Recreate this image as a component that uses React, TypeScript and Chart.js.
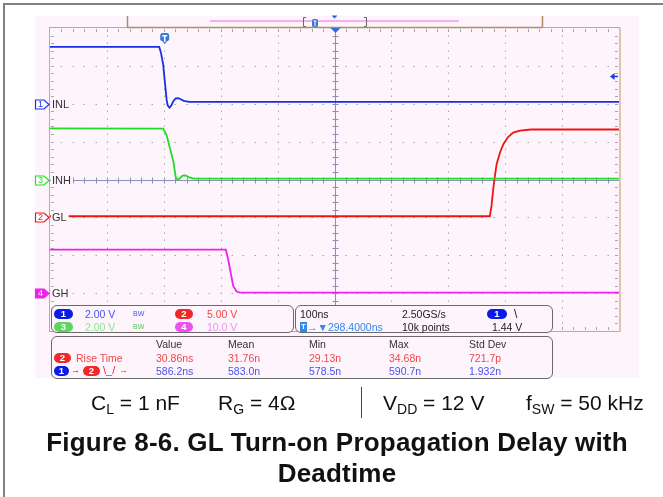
import React, { useEffect, useRef } from "react";
import { Chart, registerables } from "chart.js";
Chart.register(...registerables);

// ---- time base: 100 ns/div, 10 divisions, time in ns from left edge of screen
const TIME_MIN = 0;
const TIME_MAX = 1000;
const TIME_DIVS = 10;
const V_DIVS = 8;
const TRIGGER_T = 201.6; // centre (500 ns) minus 298.4 ns
const TRIGGER_LEVEL = 1.44; // V on channel 1

// ---- channel 1 : INL (2 V/div)
const CH1_T = [0, 192, 195, 199, 202, 205, 207, 210, 213, 217, 221, 225, 229, 235, 245, 1000];
const CH1_V = [3.0, 3.0, 2.7, 2.05, 1.1, 0.2, -0.1, -0.2, -0.1, 0.15, 0.28, 0.3, 0.25, 0.15, 0.1, 0.1];

// ---- channel 3 : INH (2 V/div)
const CH3_T = [0, 199, 205, 211, 217, 221, 224, 228, 233, 238, 244, 252, 1000];
const CH3_V = [2.7, 2.69, 2.33, 1.63, 0.92, 0.12, -0.02, 0.05, 0.2, 0.22, 0.12, 0.05, 0.05];

// ---- channel 2 : GL (5 V/div)
const CH2_T = [0, 773, 776, 779, 782, 785, 791, 797, 805, 814, 826, 845, 1000];
const CH2_V = [0.15, 0.15, 1.55, 3.76, 5.5, 7.05, 8.6, 9.7, 10.6, 11.2, 11.45, 11.6, 11.6];

// ---- channel 4 : GH (10 V/div)
const CH4_T = [0, 309, 313, 317.5, 322, 328, 334, 1000];
const CH4_V = [11.5, 11.46, 9.0, 5.44, 1.92, 0.41, 0.15, 0.15];

// channel settings: volts/div and ground marker position (divisions from centre)
const CH_IDS = ["ch1", "ch2", "ch3", "ch4"];
const CH_NUMS = ["1", "2", "3", "4"];
const CH_LABELS = ["INL", "GL", "INH", "GH"];
const CH_VDIV = [2, 5, 2, 10];
const CH_GROUND_DIV = [2, -1, 0, -3];
const CH_COLORS = ["#1A2EE6", "#F01414", "#22DE22", "#EE22EE"];

const PANEL_BG = "#FDF4FC";

function pts(ts: number[], vs: number[]) {
  return ts.map((t, i) => ({ x: t, y: vs[i] }));
}

function yScaleFor(i: number) {
  const v = CH_VDIV[i];
  const g = CH_GROUND_DIV[i];
  return {
    type: "linear" as const,
    display: false,
    min: -(V_DIVS / 2 + g) * v,
    max: (V_DIVS / 2 - g) * v,
  };
}

const scopePlugin = {
  id: "scope",
  beforeDraw(chart: any) {
    const ctx = chart.ctx as CanvasRenderingContext2D;
    const { left, right, top, bottom } = chart.chartArea;
    ctx.save();
    ctx.fillStyle = "#ffffff";
    ctx.fillRect(0, 0, chart.width, chart.height);
    // outer figure frame
    ctx.fillStyle = "#808080";
    ctx.fillRect(3, 3, chart.width - 3, 2);
    ctx.fillRect(3, 3, 2, chart.height - 3);
    // scope screen panel
    ctx.fillStyle = PANEL_BG;
    ctx.fillRect(35, 16, 604, 362);

    // top memory bar
    ctx.strokeStyle = "#B48A62";
    ctx.lineWidth = 1.5;
    ctx.beginPath();
    ctx.moveTo(127.5, 16);
    ctx.lineTo(127.5, top);
    ctx.lineTo(542.5, top);
    ctx.lineTo(542.5, 16);
    ctx.stroke();
    ctx.fillStyle = "#F6B0EE";
    ctx.fillRect(210, 20, 249, 2);
    // brackets
    ctx.strokeStyle = "#666";
    ctx.lineWidth = 1;
    ctx.beginPath();
    ctx.moveTo(306, 17.5); ctx.lineTo(303.5, 17.5); ctx.lineTo(303.5, 26.5); ctx.lineTo(306, 26.5);
    ctx.moveTo(364, 17.5); ctx.lineTo(366.5, 17.5); ctx.lineTo(366.5, 26.5); ctx.lineTo(364, 26.5);
    ctx.stroke();
    // small trigger marker on memory bar
    ctx.fillStyle = "#3A78D8";
    ctx.beginPath();
    (ctx as any).roundRect(312, 19, 6, 8, 1.5);
    ctx.fill();
    ctx.fillStyle = "#fff";
    ctx.fillRect(314.5, 21, 1, 5);
    ctx.fillRect(313.5, 20.5, 3, 1);
    // small triangle at screen centre on memory bar
    const cx = chart.scales.x.getPixelForValue((TIME_MIN + TIME_MAX) / 2);
    ctx.fillStyle = "#2060E0";
    ctx.beginPath();
    ctx.moveTo(cx - 3, 15.5); ctx.lineTo(cx + 3, 15.5); ctx.lineTo(cx, 18.5); ctx.closePath();
    ctx.fill();

    // plot background
    ctx.fillStyle = PANEL_BG;
    ctx.fillRect(left, top, right - left, bottom - top);
    ctx.restore();
  },
  beforeDatasetsDraw(chart: any) {
    const ctx = chart.ctx as CanvasRenderingContext2D;
    const { left, right, top, bottom } = chart.chartArea;
    const dx = (right - left) / TIME_DIVS;
    const dy = (bottom - top) / V_DIVS;
    ctx.save();
    // dotted graticule
    ctx.fillStyle = "#A8A8B0";
    for (let i = 1; i < TIME_DIVS; i++) {
      if (i === TIME_DIVS / 2) continue;
      const x = Math.round(left + i * dx);
      for (let j = 1; j < V_DIVS * 5; j++) {
        const y = Math.round(top + (j * dy) / 5);
        ctx.fillRect(x, y - 0.5, 1, 1.5);
      }
    }
    for (let j = 1; j < V_DIVS; j++) {
      if (j === V_DIVS / 2) continue;
      const y = Math.round(top + j * dy);
      for (let i = 1; i < TIME_DIVS * 5; i++) {
        const x = Math.round(left + (i * dx) / 5);
        ctx.fillRect(x - 0.5, y, 1.5, 1);
      }
    }
    // border ticks
    ctx.fillStyle = "#A8A8B0";
    for (let i = 1; i < TIME_DIVS * 5; i++) {
      const x = Math.round(left + (i * dx) / 5);
      ctx.fillRect(x, top + 1, 1, 3);
      ctx.fillRect(x, bottom - 4, 1, 3);
    }
    for (let j = 1; j < V_DIVS * 5; j++) {
      const y = Math.round(top + (j * dy) / 5);
      ctx.fillRect(left + 1, y, 3, 1);
      ctx.fillRect(right - 4, y, 3, 1);
    }
    // centre axes
    const cx = Math.round(left + 5 * dx) + 0.5;
    const cy = Math.round(top + 4 * dy) + 0.5;
    ctx.strokeStyle = "#8890B4";
    ctx.lineWidth = 1;
    ctx.beginPath();
    ctx.moveTo(cx, top); ctx.lineTo(cx, bottom);
    ctx.moveTo(left, cy); ctx.lineTo(right, cy);
    for (let i = 1; i < TIME_DIVS * 5; i++) {
      const x = Math.round(left + (i * dx) / 5) + 0.5;
      ctx.moveTo(x, cy - 3); ctx.lineTo(x, cy + 3);
    }
    for (let j = 1; j < V_DIVS * 5; j++) {
      const y = Math.round(top + (j * dy) / 5) + 0.5;
      ctx.moveTo(cx - 3, y); ctx.lineTo(cx + 3, y);
    }
    ctx.stroke();
    // border
    ctx.strokeStyle = "#C9A486";
    ctx.lineWidth = 1;
    ctx.strokeRect(left - 0.5, top - 0.5, right - left + 1, bottom - top + 1);
    ctx.fillStyle = "#E2C4AC";
    ctx.fillRect(right, top, 2, bottom - top + 1);
    ctx.strokeStyle = "#B48A62";
    ctx.lineWidth = 1.5;
    ctx.beginPath();
    ctx.moveTo(127.5, top - 0.5); ctx.lineTo(542.5, top - 0.5);
    ctx.stroke();
    // centre marker triangle at top
    ctx.fillStyle = "#2F6FE0";
    ctx.beginPath();
    ctx.moveTo(cx - 5, top); ctx.lineTo(cx + 5, top); ctx.lineTo(cx, top + 5); ctx.closePath();
    ctx.fill();
    ctx.restore();
  },
  afterDatasetsDraw(chart: any) {
    const ctx = chart.ctx as CanvasRenderingContext2D;
    const { left, right, top } = chart.chartArea;
    ctx.save();
    // channel ground markers & labels
    ctx.textBaseline = "middle";
    for (let i = 0; i < CH_IDS.length; i++) {
      const gy = Math.round(chart.scales[CH_IDS[i]].getPixelForValue(0)) + 0.5;
      ctx.font = '11px "Liberation Sans", Arial, sans-serif';
      const w = ctx.measureText(CH_LABELS[i]).width;
      ctx.fillStyle = PANEL_BG;
      ctx.fillRect(left + 1, gy - 6, w + 3, 12);
      ctx.fillStyle = "#333";
      ctx.textAlign = "left";
      ctx.fillText(CH_LABELS[i], left + 2, gy + 0.5);
      // marker
      ctx.beginPath();
      ctx.moveTo(35.5, gy - 4.5);
      ctx.lineTo(44, gy - 4.5);
      ctx.lineTo(left - 1, gy);
      ctx.lineTo(44, gy + 4.5);
      ctx.lineTo(35.5, gy + 4.5);
      ctx.closePath();
      const filled = i === 3;
      ctx.fillStyle = filled ? CH_COLORS[i] : "#ffffff";
      ctx.fill();
      ctx.strokeStyle = CH_COLORS[i];
      ctx.lineWidth = 1.2;
      ctx.stroke();
      ctx.fillStyle = filled ? "#ffffff" : CH_COLORS[i];
      ctx.font = '9px "Liberation Sans", Arial, sans-serif';
      ctx.textAlign = "center";
      ctx.fillText(CH_NUMS[i], 40.5, gy + 0.5);
    }
    // trigger position marker
    const tx = chart.scales.x.getPixelForValue(TRIGGER_T);
    ctx.fillStyle = "#3A78D8";
    ctx.beginPath();
    (ctx as any).roundRect(tx - 4.5, top + 5, 9, 8, 2.5);
    ctx.fill();
    ctx.beginPath();
    ctx.moveTo(tx - 4.5, top + 11); ctx.lineTo(tx + 4.5, top + 11); ctx.lineTo(tx, top + 16); ctx.closePath();
    ctx.fill();
    ctx.fillStyle = "#fff";
    ctx.fillRect(tx - 2.5, top + 7, 5, 1.5);
    ctx.fillRect(tx - 0.75, top + 7, 1.5, 7);
    // trigger level arrow (right)
    const ty = Math.round(chart.scales.ch1.getPixelForValue(TRIGGER_LEVEL)) + 0.5;
    ctx.fillStyle = "#1A3BE0";
    ctx.beginPath();
    ctx.moveTo(right - 9, ty); ctx.lineTo(right - 4.5, ty - 3.5); ctx.lineTo(right - 4.5, ty + 3.5); ctx.closePath();
    ctx.fill();
    ctx.fillRect(right - 5, ty - 0.75, 4, 1.5);
    ctx.restore();
  },
};

const SCOPE_FONT = '"Liberation Sans", Arial, "DejaVu Sans", sans-serif';

function Txt(props: { x: number; y: number; color?: string; size?: number; children: any; bold?: boolean }) {
  return (
    <div
      style={{
        position: "absolute",
        left: props.x,
        top: props.y,
        color: props.color || "#222",
        fontSize: props.size || 10.5,
        lineHeight: 1,
        whiteSpace: "nowrap",
        fontWeight: props.bold ? "bold" : "normal",
      }}
    >
      {props.children}
    </div>
  );
}

function Pill(props: { x: number; y: number; w: number; bg: string; n: string }) {
  return (
    <div
      style={{
        position: "absolute",
        left: props.x,
        top: props.y,
        width: props.w,
        height: 10,
        borderRadius: 5,
        background: props.bg,
        color: "#fff",
        fontSize: 9.5,
        fontWeight: "bold",
        lineHeight: "10px",
        textAlign: "center",
      }}
    >
      {props.n}
    </div>
  );
}

const boxStyle = (x: number, y: number, w: number, h: number): React.CSSProperties => ({
  position: "absolute",
  left: x,
  top: y,
  width: w,
  height: h,
  border: "1px solid #6A6A6A",
  borderRadius: 6,
  background: PANEL_BG,
  boxSizing: "border-box",
});

const sub = (s: string) => (
  <span style={{ fontSize: 14, position: "relative", top: 4 }}>{s}</span>
);

export default function App() {
  const ref = useRef<HTMLCanvasElement>(null);
  useEffect(() => {
    const series = [
      { id: "ch1", t: CH1_T, v: CH1_V, c: CH_COLORS[0], label: "INL" },
      { id: "ch3", t: CH3_T, v: CH3_V, c: CH_COLORS[2], label: "INH" },
      { id: "ch2", t: CH2_T, v: CH2_V, c: CH_COLORS[1], label: "GL" },
      { id: "ch4", t: CH4_T, v: CH4_V, c: CH_COLORS[3], label: "GH" },
    ];
    const chart = new Chart(ref.current as HTMLCanvasElement, {
      type: "line",
      data: {
        datasets: series.map((s) => ({
          label: s.label,
          data: pts(s.t, s.v),
          yAxisID: s.id,
          borderColor: s.c,
          backgroundColor: s.c,
          borderWidth: 1.8,
          pointRadius: 0,
          tension: 0,
          fill: false,
        })),
      },
      options: {
        responsive: false,
        maintainAspectRatio: false,
        animation: false,
        events: [],
        layout: { padding: { left: 50, top: 28, right: 44, bottom: 166 } },
        plugins: { legend: { display: false }, tooltip: { enabled: false } },
        scales: {
          x: { type: "linear", display: false, min: TIME_MIN, max: TIME_MAX },
          ch1: yScaleFor(0),
          ch2: yScaleFor(1),
          ch3: yScaleFor(2),
          ch4: yScaleFor(3),
        },
      } as any,
      plugins: [scopePlugin],
    });
    return () => chart.destroy();
  }, []);

  return (
    <div
      style={{
        position: "fixed",
        left: 0,
        top: 0,
        width: 663,
        height: 497,
        overflow: "hidden",
        background: "#fff",
        fontFamily: SCOPE_FONT,
      }}
    >
      <canvas ref={ref} width={663} height={497} style={{ position: "absolute", left: 0, top: 0, width: 663, height: 497 }} />

      {/* channel settings box */}
      <div style={boxStyle(51, 305, 243, 28)} />
      <Pill x={54} y={309} w={19} bg="#0A1AE8" n="1" />
      <Txt x={85} y={309} color="#4455EE">2.00 V</Txt>
      <Txt x={133} y={310} color="#4455EE" size={7}>BW</Txt>
      <Pill x={175} y={309} w={18} bg="#F02828" n="2" />
      <Txt x={207} y={309} color="#F04848">5.00 V</Txt>
      <Pill x={54} y={322} w={19} bg="#5CD65C" n="3" />
      <Txt x={85} y={322} color="#88E888">2.00 V</Txt>
      <Txt x={133} y={323} color="#55C855" size={7}>BW</Txt>
      <Pill x={175} y={322} w={18} bg="#F050F0" n="4" />
      <Txt x={207} y={322} color="#F090F0">10.0 V</Txt>

      {/* timebase box */}
      <div style={boxStyle(295, 305, 258, 28)} />
      <Txt x={300} y={309}>100ns</Txt>
      <Txt x={402} y={309}>2.50GS/s</Txt>
      <Pill x={487} y={309} w={20} bg="#0A1AE8" n="1" />
      <Txt x={514} y={308} size={12}>\</Txt>
      <div style={{ position: "absolute", left: 300, top: 322, width: 7, height: 10, background: "#3388EE", color: "#fff", fontSize: 8, fontWeight: "bold", lineHeight: "10px", textAlign: "center" }}>T</div>
      <Txt x={307} y={322} color="#3388EE">→▼298.4000ns</Txt>
      <Txt x={402} y={322}>10k points</Txt>
      <Txt x={492} y={322}>1.44 V</Txt>

      {/* measurement box */}
      <div style={boxStyle(51, 336, 502, 43)} />
      <Txt x={156} y={339} color="#333">Value</Txt>
      <Txt x={228} y={339} color="#333">Mean</Txt>
      <Txt x={309} y={339} color="#333">Min</Txt>
      <Txt x={389} y={339} color="#333">Max</Txt>
      <Txt x={469} y={339} color="#333">Std Dev</Txt>

      <Pill x={54} y={353} w={17} bg="#F02828" n="2" />
      <Txt x={76} y={353} color="#F04848">Rise Time</Txt>
      <Txt x={156} y={353} color="#F04848">30.86ns</Txt>
      <Txt x={228} y={353} color="#F04848">31.76n</Txt>
      <Txt x={309} y={353} color="#F04848">29.13n</Txt>
      <Txt x={389} y={353} color="#F04848">34.68n</Txt>
      <Txt x={469} y={353} color="#F04848">721.7p</Txt>

      <Pill x={54} y={366} w={15} bg="#0A1AE8" n="1" />
      <Txt x={71} y={366} color="#1A2EE6" size={9}>→</Txt>
      <Pill x={83} y={366} w={17} bg="#F02828" n="2" />
      <Txt x={103} y={365} color="#F02828" size={11}>\_/</Txt>
      <Txt x={119} y={366} color="#F02828" size={9}>→</Txt>
      <Txt x={156} y={366} color="#4455EE">586.2ns</Txt>
      <Txt x={228} y={366} color="#4455EE">583.0n</Txt>
      <Txt x={309} y={366} color="#4455EE">578.5n</Txt>
      <Txt x={389} y={366} color="#4455EE">590.7n</Txt>
      <Txt x={469} y={366} color="#4455EE">1.932n</Txt>

      {/* conditions line */}
      <div style={{ position: "absolute", left: 0, top: 392, width: 663, height: 24, fontSize: 21, lineHeight: "21px", color: "#111", fontFamily: '"Liberation Sans", Arial, sans-serif' }}>
        <span style={{ position: "absolute", left: 91, whiteSpace: "nowrap" }}>C{sub("L")} = 1 nF</span>
        <span style={{ position: "absolute", left: 218, whiteSpace: "nowrap" }}>R{sub("G")} = 4Ω</span>
        <span style={{ position: "absolute", left: 383, whiteSpace: "nowrap" }}>V{sub("DD")} = 12 V</span>
        <span style={{ position: "absolute", left: 526, whiteSpace: "nowrap" }}>f{sub("SW")} = 50 kHz</span>
      </div>
      <div style={{ position: "absolute", left: 361, top: 387, width: 1, height: 31, background: "#444" }} />

      {/* caption */}
      <div style={{ position: "absolute", left: 0, top: 427, width: 674, textAlign: "center", fontSize: 26, lineHeight: "31px", fontWeight: "bold", letterSpacing: 0.2, color: "#111", fontFamily: '"Liberation Sans", Arial, sans-serif' }}>
        Figure 8-6. GL Turn-on Propagation Delay with
        <br />
        Deadtime
      </div>
    </div>
  );
}
